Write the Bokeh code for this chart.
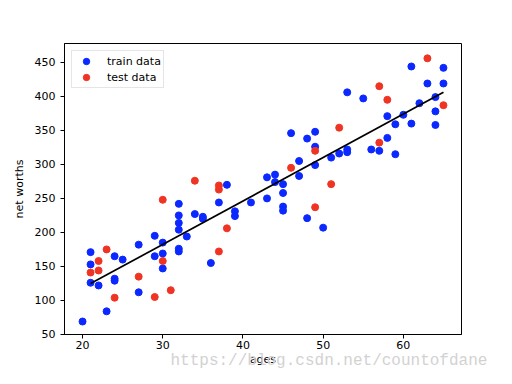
from bokeh.plotting import figure
from bokeh.models import Range1d, FixedTicker, Title, Legend, LegendItem
from bokeh.embed import file_html
from bokeh.resources import INLINE

# training data (ages, net worths)
train_ages = [20, 21, 21, 21, 22, 23, 24, 24, 24, 25, 27, 27, 29, 29, 30, 30, 30,
              32, 32, 32, 32, 32, 32, 33, 34, 35, 35, 36, 37, 38, 39, 39, 41,
              43, 43, 44, 44, 45, 45, 45, 45, 46, 47, 47, 48, 48, 49, 49, 49,
              50, 51, 52, 53, 53, 53, 55, 56, 57, 58, 58, 59, 59, 60, 61, 61,
              62, 63, 64, 64, 64, 65, 65]
train_worths = [69, 171, 153, 126, 122, 84, 165, 132, 129, 160, 182, 112, 195, 165, 185, 169, 147,
                242, 225, 214, 204, 176, 172, 194, 227, 223, 220, 155, 244, 270, 231, 224, 244,
                281, 250, 285, 274, 271, 258, 238, 232, 346, 305, 283, 338, 221, 348, 326, 299,
                207, 310, 316, 406, 322, 318, 397, 322, 320, 371, 339, 359, 315, 373, 444, 360,
                390, 419, 399, 378, 358, 442, 419]

# test data
test_ages = [21, 22, 22, 23, 24, 27, 29, 30, 30, 31, 34, 37, 37, 37, 38, 46, 49, 49,
             51, 52, 57, 57, 58, 63, 65]
test_worths = [141, 158, 144, 175, 104, 135, 105, 248, 158, 115, 276, 269, 263, 172, 206,
               295, 320, 237, 271, 354, 415, 332, 395, 456, 387]

# regression line
line_ages = [21, 65]
line_worths = [124.8, 406]

x_ticks = [20, 30, 40, 50, 60]
y_ticks = [50, 100, 150, 200, 250, 300, 350, 400, 450]

FONT = "DejaVu Sans"
BLUE = "#0a28ff"
RED = "#f03424"

p = figure(width=496, height=368, output_backend="svg", toolbar_location=None,
           x_range=Range1d(17.75, 67.25), y_range=Range1d(49.9, 477.8),
           min_border_left=64, min_border_right=35, min_border_top=43, min_border_bottom=33)

p.grid.visible = False
p.outline_line_color = "black"
p.outline_line_width = 1
p.background_fill_color = "white"
p.border_fill_color = "white"

for ax in (p.xaxis, p.yaxis):
    ax.axis_line_color = "black"
    ax.axis_line_width = 1
    ax.major_tick_out = 4
    ax.major_tick_in = 0
    ax.minor_tick_out = 0
    ax.minor_tick_in = 0
    ax.major_tick_line_color = "black"
    ax.major_label_text_font = FONT
    ax.major_label_text_font_size = "11px"
    ax.major_label_text_color = "black"
    ax.axis_label_text_font = FONT
    ax.axis_label_text_font_size = "11px"
    ax.axis_label_text_font_style = "normal"
    ax.axis_label_text_color = "black"

p.xaxis.ticker = FixedTicker(ticks=x_ticks)
p.yaxis.ticker = FixedTicker(ticks=y_ticks)
p.xaxis.axis_label = "ages"
p.yaxis.axis_label = "net worths"
p.xaxis.major_label_standoff = 2
p.xaxis.axis_label_standoff = 1
p.yaxis.major_label_standoff = 5
p.yaxis.axis_label_standoff = 6

r_train = p.scatter(train_ages, train_worths, size=7, fill_color=BLUE, line_color=BLUE, line_width=1)
r_test = p.scatter(test_ages, test_worths, size=7, fill_color=RED, line_color=RED, line_width=1)
p.line(line_ages, line_worths, line_color="black", line_width=1.7)

legend = Legend(items=[LegendItem(label="train data", renderers=[r_train]),
                       LegendItem(label="test data", renderers=[r_test])],
                location="top_left")
legend.margin = 7
legend.padding = 2
legend.spacing = 0
legend.glyph_width = 24
legend.glyph_height = 16
legend.label_height = 16
legend.label_standoff = 9
legend.label_text_font = FONT
legend.label_text_font_size = "11px"
legend.label_text_color = "black"
legend.border_line_color = "#cccccc"
legend.border_line_width = 1
legend.background_fill_color = "white"
legend.background_fill_alpha = 0.8
p.add_layout(legend)

watermark = Title(text="https://blog.csdn.net/countofdane", align="left", offset=106,
                  standoff=-34, vertical_align="top",
                  text_font="Liberation Mono", text_font_size="16px",
                  text_font_style="normal", text_color="#d2d2d2")
p.add_layout(watermark, "below")

open("out.html", "w").write(file_html(p, INLINE))
